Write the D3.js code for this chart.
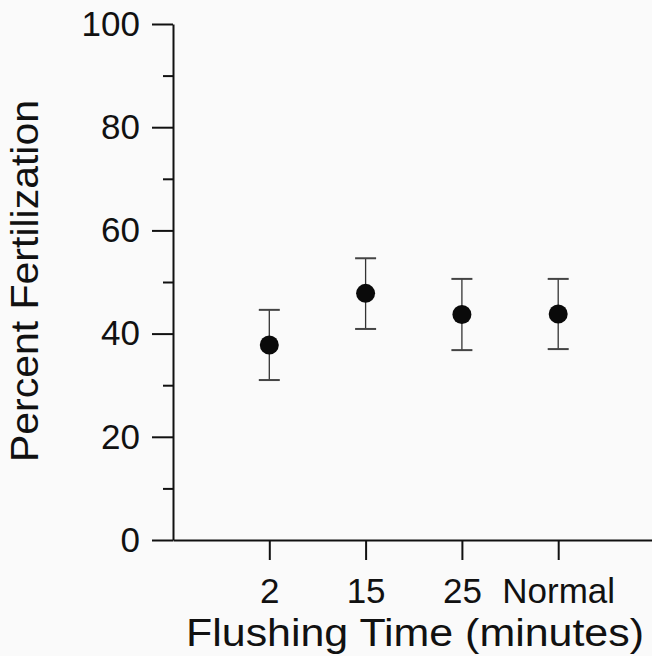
<!DOCTYPE html>
<html>
<head>
<meta charset="utf-8">
<script src="https://cdn.jsdelivr.net/npm/d3@7"></script>
<style>
  body { margin: 0; background: #fafafa; }
  svg { display: block; font-family: "Liberation Sans", Arial, sans-serif; }
</style>
</head>
<body>
<div class="visHolder"></div>
<script>
const width = 652;
const height = 656;

// data
const categories = ["2", "15", "25", "Normal"];
const meanValues = [37.8, 47.8, 43.7, 43.8];
const upperValues = [44.6, 54.6, 50.6, 50.6];
const lowerValues = [31.0, 40.9, 36.8, 37.0];
const majorTicks = [0, 20, 40, 60, 80, 100];
const minorTicks = [10, 30, 50, 70, 90];

let svgContainer = d3
    .select(".visHolder")
    .append("svg")
    .attr("width", width)
    .attr("height", height);

svgContainer
    .append("rect")
    .attr("width", width)
    .attr("height", height)
    .attr("fill", "#fafafa");

const xScale = d3.scaleLinear().domain([0, 5]).range([173, 654.5]);
const yScale = d3.scaleLinear().domain([0, 100]).range([540, 24]);

// minor y ticks
svgContainer
    .append("g")
    .attr("transform", "translate(173, 0)")
    .call(d3.axisLeft(yScale).tickValues(minorTicks).tickSize(10).tickSizeOuter(0).tickFormat(""))
    .call((g) => g.select(".domain").remove())
    .selectAll("line")
    .attr("stroke", "#111")
    .attr("stroke-width", 2);

// major y axis
const yAxis = d3
    .axisLeft(yScale)
    .tickValues(majorTicks)
    .tickSize(21)
    .tickSizeOuter(0)
    .tickPadding(12);
let yG = svgContainer
    .append("g")
    .attr("id", "y-axis")
    .attr("transform", "translate(173, 0)")
    .call(yAxis);
yG.select(".domain").attr("stroke", "#111").attr("stroke-width", 2);
yG.selectAll("line").attr("stroke", "#111").attr("stroke-width", 2);
yG.selectAll("text")
    .attr("font-size", 35)
    .attr("font-family", "Liberation Sans, Arial, sans-serif")
    .attr("fill", "#111");

// x axis
const xAxis = d3
    .axisBottom(xScale)
    .tickValues([1, 2, 3, 4])
    .tickFormat((d) => categories[d - 1])
    .tickSize(20)
    .tickSizeOuter(0)
    .tickPadding(18);
let xG = svgContainer
    .append("g")
    .attr("id", "x-axis")
    .attr("transform", "translate(0, 540)")
    .call(xAxis);
xG.select(".domain").attr("stroke", "#111").attr("stroke-width", 2);
xG.selectAll("line").attr("stroke", "#111").attr("stroke-width", 2);
xG.selectAll("text")
    .attr("font-size", 35)
    .attr("font-family", "Liberation Sans, Arial, sans-serif")
    .attr("fill", "#111");

// error bars
const bars = svgContainer
    .append("g")
    .selectAll("g")
    .data(categories)
    .enter()
    .append("g");

bars.append("line")
    .attr("x1", (d, i) => xScale(i + 1))
    .attr("x2", (d, i) => xScale(i + 1))
    .attr("y1", (d, i) => yScale(upperValues[i]))
    .attr("y2", (d, i) => yScale(lowerValues[i]))
    .attr("stroke", "#333")
    .attr("stroke-width", 1.3);

bars.append("line")
    .attr("x1", (d, i) => xScale(i + 1) - 10.5)
    .attr("x2", (d, i) => xScale(i + 1) + 10.5)
    .attr("y1", (d, i) => yScale(upperValues[i]))
    .attr("y2", (d, i) => yScale(upperValues[i]))
    .attr("stroke", "#444")
    .attr("stroke-width", 2);

bars.append("line")
    .attr("x1", (d, i) => xScale(i + 1) - 10.5)
    .attr("x2", (d, i) => xScale(i + 1) + 10.5)
    .attr("y1", (d, i) => yScale(lowerValues[i]))
    .attr("y2", (d, i) => yScale(lowerValues[i]))
    .attr("stroke", "#444")
    .attr("stroke-width", 2);

bars.append("circle")
    .attr("cx", (d, i) => xScale(i + 1))
    .attr("cy", (d, i) => yScale(meanValues[i]))
    .attr("r", 9.5)
    .attr("fill", "#0a0a0a");

// titles
svgContainer
    .append("text")
    .attr("id", "y-label")
    .attr("transform", "translate(38, 281) rotate(-90)")
    .attr("text-anchor", "middle")
    .attr("font-size", 38)
    .attr("textLength", 362)
    .attr("lengthAdjust", "spacingAndGlyphs")
    .attr("fill", "#111")
    .text("Percent Fertilization");

svgContainer
    .append("text")
    .attr("id", "x-label")
    .attr("x", 415)
    .attr("y", 646)
    .attr("text-anchor", "middle")
    .attr("font-size", 38)
    .attr("textLength", 458)
    .attr("lengthAdjust", "spacingAndGlyphs")
    .attr("fill", "#111")
    .text("Flushing Time (minutes)");
</script>
</body>
</html>
